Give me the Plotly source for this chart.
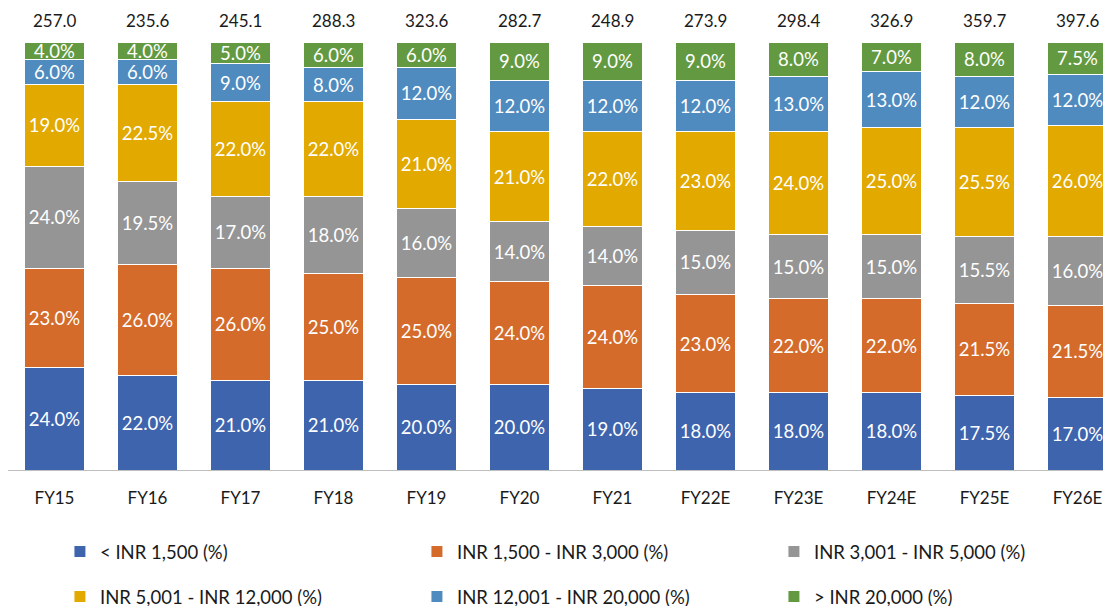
import plotly.graph_objects as go

categories = ["FY15", "FY16", "FY17", "FY18", "FY19", "FY20", "FY21", "FY22E", "FY23E", "FY24E", "FY25E", "FY26E"]
totals = [257.0, 235.6, 245.1, 288.3, 323.6, 282.7, 248.9, 273.9, 298.4, 326.9, 359.7, 397.6]

series_names = ["< INR 1,500 (%)", "INR 1,500 - INR 3,000 (%)", "INR 3,001 - INR 5,000 (%)",
                "INR 5,001 - INR 12,000 (%)", "INR 12,001 - INR 20,000 (%)", "> INR 20,000 (%)"]
lt_1500 = [24.0, 22.0, 21.0, 21.0, 20.0, 20.0, 19.0, 18.0, 18.0, 18.0, 17.5, 17.0]
r1500_3000 = [23.0, 26.0, 26.0, 25.0, 25.0, 24.0, 24.0, 23.0, 22.0, 22.0, 21.5, 21.5]
r3001_5000 = [24.0, 19.5, 17.0, 18.0, 16.0, 14.0, 14.0, 15.0, 15.0, 15.0, 15.5, 16.0]
r5001_12000 = [19.0, 22.5, 22.0, 22.0, 21.0, 21.0, 22.0, 23.0, 24.0, 25.0, 25.5, 26.0]
r12001_20000 = [6.0, 6.0, 9.0, 8.0, 12.0, 12.0, 12.0, 12.0, 13.0, 13.0, 12.0, 12.0]
gt_20000 = [4.0, 4.0, 5.0, 6.0, 6.0, 9.0, 9.0, 9.0, 8.0, 7.0, 8.0, 7.5]

series_values = [lt_1500, r1500_3000, r3001_5000, r5001_12000, r12001_20000, gt_20000]
colors = ["#3E64AD", "#D46B2B", "#959595", "#E2A900", "#4F8BBF", "#639A41"]

FONT = "Lato"
TXT = "#1a1a1a"

fig = go.Figure()
for i, (name, vals, col) in enumerate(zip(series_names, series_values, colors)):
    fig.add_trace(go.Bar(
        x=categories, y=vals, name=name,
        marker=dict(color=col, line=dict(color="white", width=1)),
        text=[f"{v:.1f}%" for v in vals],
        textposition="inside", insidetextanchor="middle",
        textfont=dict(color="white", size=18.5, family=FONT),
        textangle=0, constraintext="none",
        legend="legend" if i < 3 else "legend2",
    ))

for c, t in zip(categories, totals):
    fig.add_annotation(x=c, y=100, xref="x", yref="y", text=f"{t:.1f}",
                       showarrow=False, yanchor="bottom", yshift=9,
                       font=dict(size=17, color=TXT, family=FONT))

legend_common = dict(orientation="h", x=0.0471, xanchor="left", yanchor="middle",
                     entrywidth=312, entrywidthmode="pixels",
                     font=dict(size=18.5, family=FONT, color=TXT), traceorder="normal",
                     bgcolor="rgba(0,0,0,0)")

fig.update_layout(
    barmode="stack",
    bargap=0.355,
    width=1111, height=606,
    margin=dict(l=0, r=8, t=34, b=144, autoexpand=False),
    paper_bgcolor="white", plot_bgcolor="white",
    font=dict(family=FONT, size=17, color=TXT),
    legend=dict(y=-0.1916, **legend_common),
    legend2=dict(y=-0.2967, **legend_common),
)

fig.update_xaxes(range=[-0.5, 11.36], showline=True, linecolor="#BFBFBF", linewidth=1,
                 ticks="", showgrid=False, ticklabelstandoff=13, automargin=False,
                 tickfont=dict(size=17, family=FONT, color=TXT))
fig.update_yaxes(range=[0, 100], visible=False, showgrid=False, automargin=False)

fig.write_html("out.html")
